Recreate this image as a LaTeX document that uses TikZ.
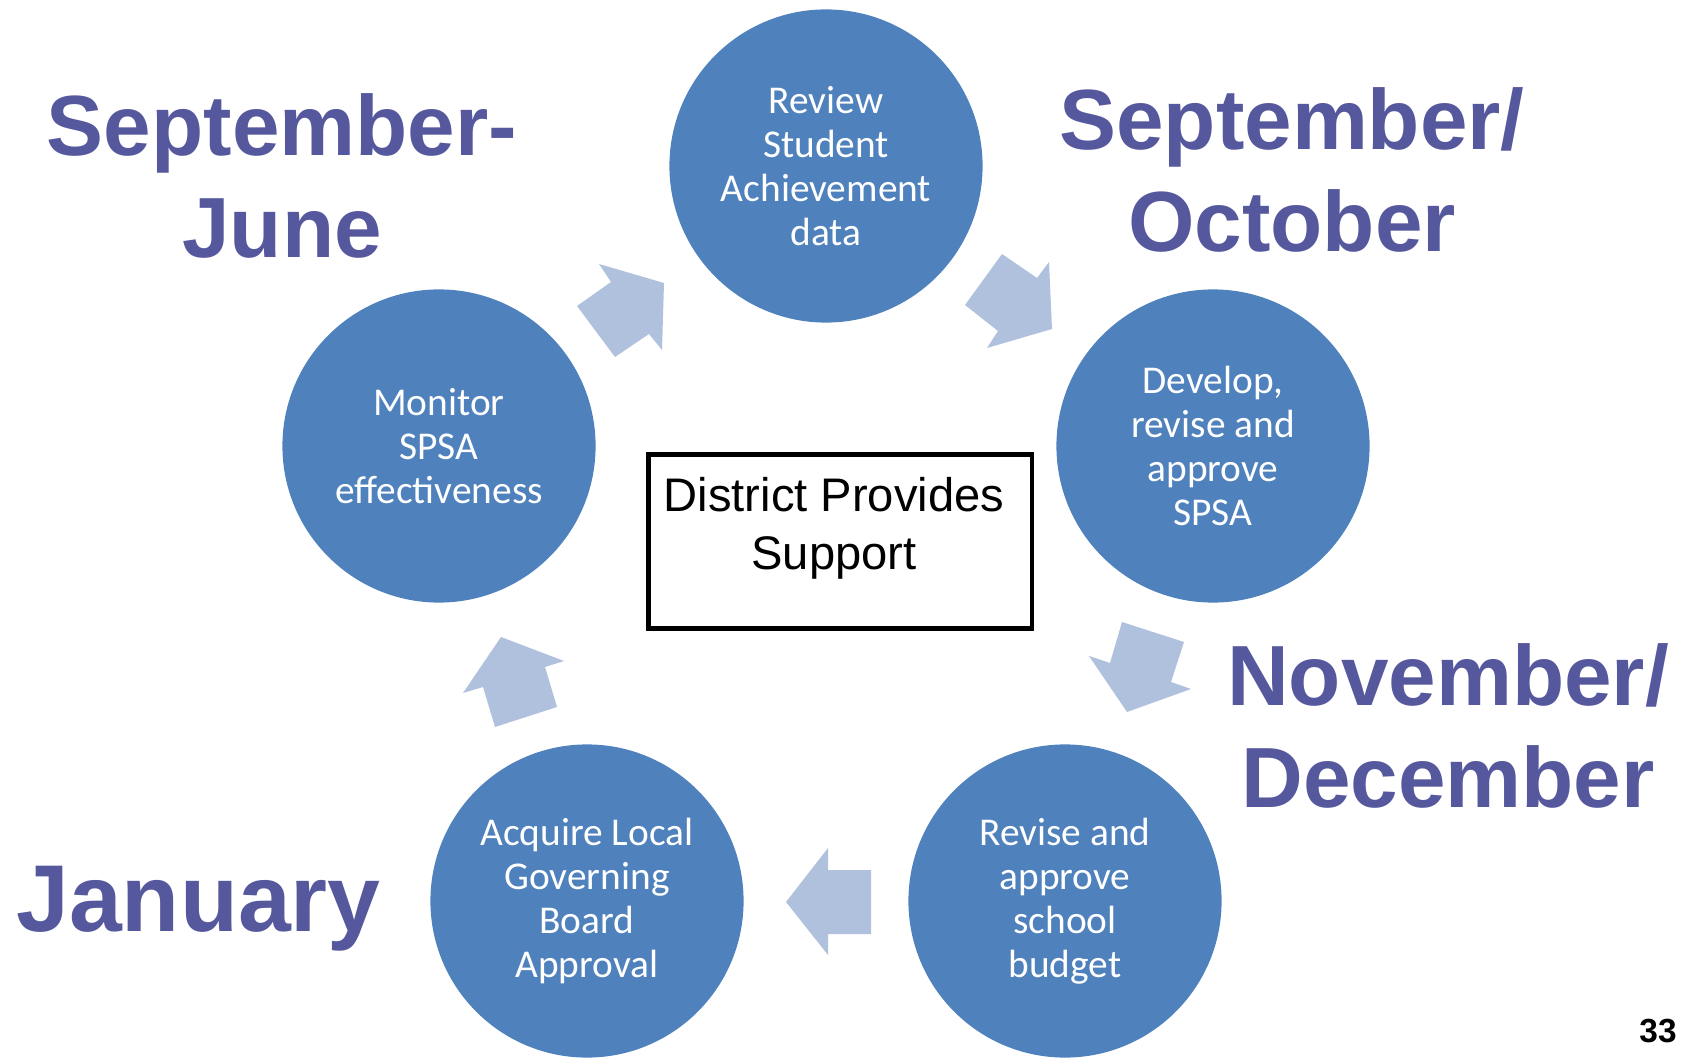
\documentclass[tikz,border=0pt]{standalone}
\usepackage{fontspec}
\setmainfont{Liberation Sans}
\newfontfamily\stagefont{Carlito}
\usepackage{tikz}
\usetikzlibrary{shapes.geometric}
\definecolor{stageblue}{RGB}{79,129,189}
\definecolor{flowgrey}{RGB}{176,193,221}
\definecolor{monthpurple}{RGB}{86,88,158}
\tikzstyle{stage} = [circle, minimum size=3.13cm, inner sep=0pt, fill=stageblue, text=white, align=center, font=\stagefont\fontsize{11.2}{12.5}\selectfont]
\tikzstyle{month} = [align=center, inner sep=0pt, text=monthpurple, font=\bfseries\fontsize{24.3}{29}\selectfont]
\tikzstyle{flow} = [fill=flowgrey]
\tikzstyle{frame} = [rectangle, draw=black, line width=1.2pt, minimum width=3.83cm, minimum height=1.74cm]

\begin{document}
\begin{tikzpicture}[x=0.01cm, y=-0.01cm]
\useasboundingbox (0,0) rectangle (1682,1058);

\node (review) [stage] at (826,166) {Review\\Student\\Achievement\\data};
\node (develop) [stage] at (1213,446) {Develop,\\revise and\\approve\\SPSA};
\node (budget) [stage] at (1065,901) {Revise and\\approve\\school\\budget};
\node (approval) [stage] at (587,901) {Acquire Local\\Governing\\Board\\Approval};
\node (monitor) [stage] at (439,446) {Monitor\\SPSA\\effectiveness};

\node (support) [frame] at (840,541.5) {};
\node (supporttext) [align=center, inner sep=0pt, font=\fontsize{13.4}{16.5}\selectfont] at (834,528) {District Provides\\Support};

% block arrows round the cycle
\fill [flow] (599,264) -- (664,283) -- (662,350) -- (649,334) -- (615,357) -- (577,306) -- (611,282) -- cycle;
\fill [flow] (1002,254) -- (1037,278) -- (1049,262) -- (1052,329) -- (987,348) -- (998,331) -- (965,305) -- cycle;
\fill [flow] (1122,622) -- (1184,642) -- (1171,682) -- (1191,689) -- (1127,712) -- (1089,656) -- (1110,663) -- cycle;
\fill [flow] (828,848) -- (828,870) -- (871,870) -- (871,934) -- (828,934) -- (828,955) -- (786,902) -- cycle;
\fill [flow] (501,637) -- (564,661) -- (545,667) -- (557,707) -- (495,727) -- (483,687) -- (463,693) -- cycle;

\node (sepjune) [month] at (282,176) {September-\\June};
\node (sepoct) [month] at (1292,170) {September/\\October};
\node (novdec) [month] at (1448,725.5) {November/\\December};
\node (january) [month, font=\bfseries\fontsize{27}{32}\selectfont] at (198.5,908.5) {January};

\node (pagenum) [inner sep=0pt, font=\bfseries\fontsize{9.5}{11}\selectfont] at (1658,1031) {33};
\end{tikzpicture}
\end{document}
